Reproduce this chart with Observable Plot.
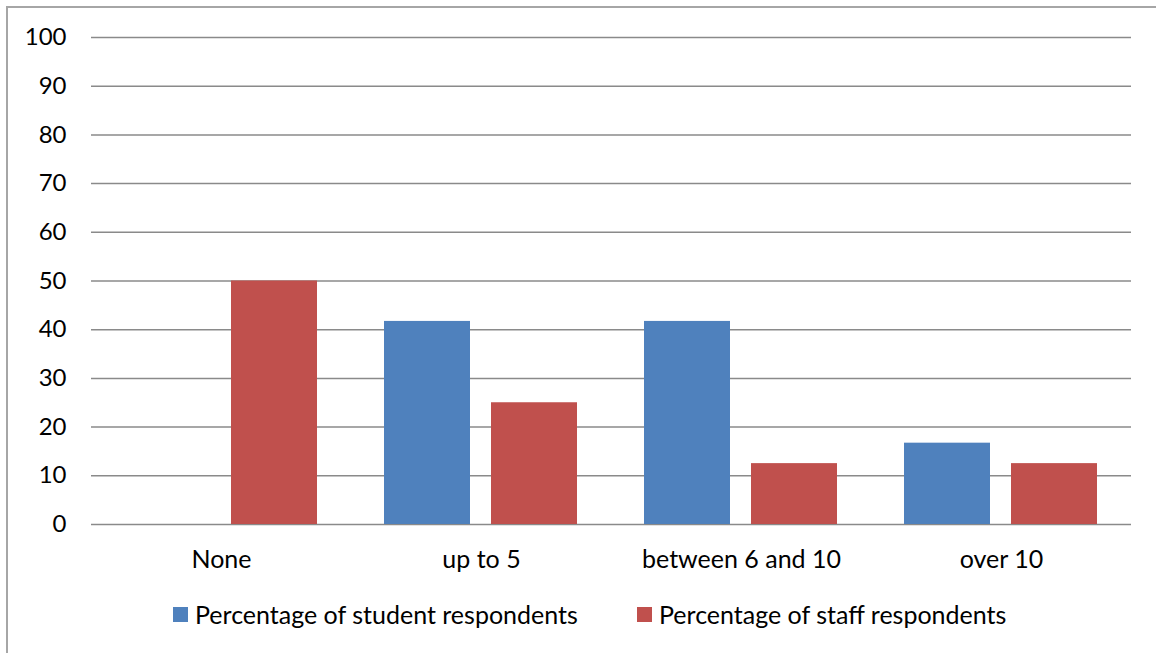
<!DOCTYPE html>
<html>
<head>
<meta charset="utf-8">
<script src="https://cdn.jsdelivr.net/npm/d3@7"></script>
<script src="https://cdn.jsdelivr.net/npm/@observablehq/plot@0.6"></script>
<style>
  html, body { margin: 0; padding: 0; background: #fff; }
  body { width: 1156px; height: 653px; position: relative; overflow: hidden; font-family: Lato, "Open Sans", sans-serif; }
  #frame { position: absolute; left: 6px; top: 6px; right: -10px; bottom: -10px; border-left: 2px solid #a6a6a6; border-top: 2px solid #a6a6a6; }
  #chart { position: absolute; left: 0; top: 0; }
  .legend-item { position: absolute; top: 599px; display: flex; align-items: center; font-size: 25px; color: #000; white-space: nowrap; }
  .swatch { width: 15px; height: 15px; margin-right: 7px; }
</style>
</head>
<body>
<div id="frame"></div>
<div id="chart"></div>
<div class="legend-item" style="left:173px"><span class="swatch" style="background:#4F81BD"></span><span>Percentage of student respondents</span></div>
<div class="legend-item" style="left:637px"><span class="swatch" style="background:#C0504D"></span><span>Percentage of staff respondents</span></div>
<script>
const categories = ["None", "up to 5", "between 6 and 10", "over 10"];
const series = ["Percentage of student respondents", "Percentage of staff respondents"];
const studentValues = [0, 41.7, 41.7, 16.7];
const staffValues = [50, 25, 12.5, 12.5];
const yTicks = [0, 10, 20, 30, 40, 50, 60, 70, 80, 90, 100];
const colors = ["#4F81BD", "#C0504D"];

const data = [];
categories.forEach((c, i) => {
  data.push({category: c, series: series[0], value: studentValues[i]});
  data.push({category: c, series: series[1], value: staffValues[i]});
});

const chart = Plot.plot({
  width: 1156,
  height: 590,
  marginLeft: 90,
  marginRight: 25,
  marginTop: 37,
  marginBottom: 66,
  style: {fontFamily: "Lato, 'Open Sans', sans-serif", fontSize: "24px", color: "#000", background: "transparent"},
  fx: {domain: categories, padding: 0, label: null},
  x: {domain: series, paddingInner: 0.194, paddingOuter: 0.306, axis: null},
  y: {domain: [0, 100], ticks: yTicks, label: null},
  color: {domain: series, range: colors},
  marks: [
    Plot.ruleY(yTicks, {y: d => d, stroke: "#8a8a8a", strokeWidth: 1.5}),
    Plot.barY(data, {fx: "category", x: "series", y: "value", fill: "series"}),
    Plot.axisY({ticks: yTicks, tickSize: 0, tickPadding: 25, label: null, fontSize: 24}),
    Plot.axisFx({anchor: "bottom", tickSize: 0, tickPadding: 26, label: null, fontSize: 25})
  ]
});
document.getElementById("chart").appendChild(chart);
</script>
</body>
</html>
